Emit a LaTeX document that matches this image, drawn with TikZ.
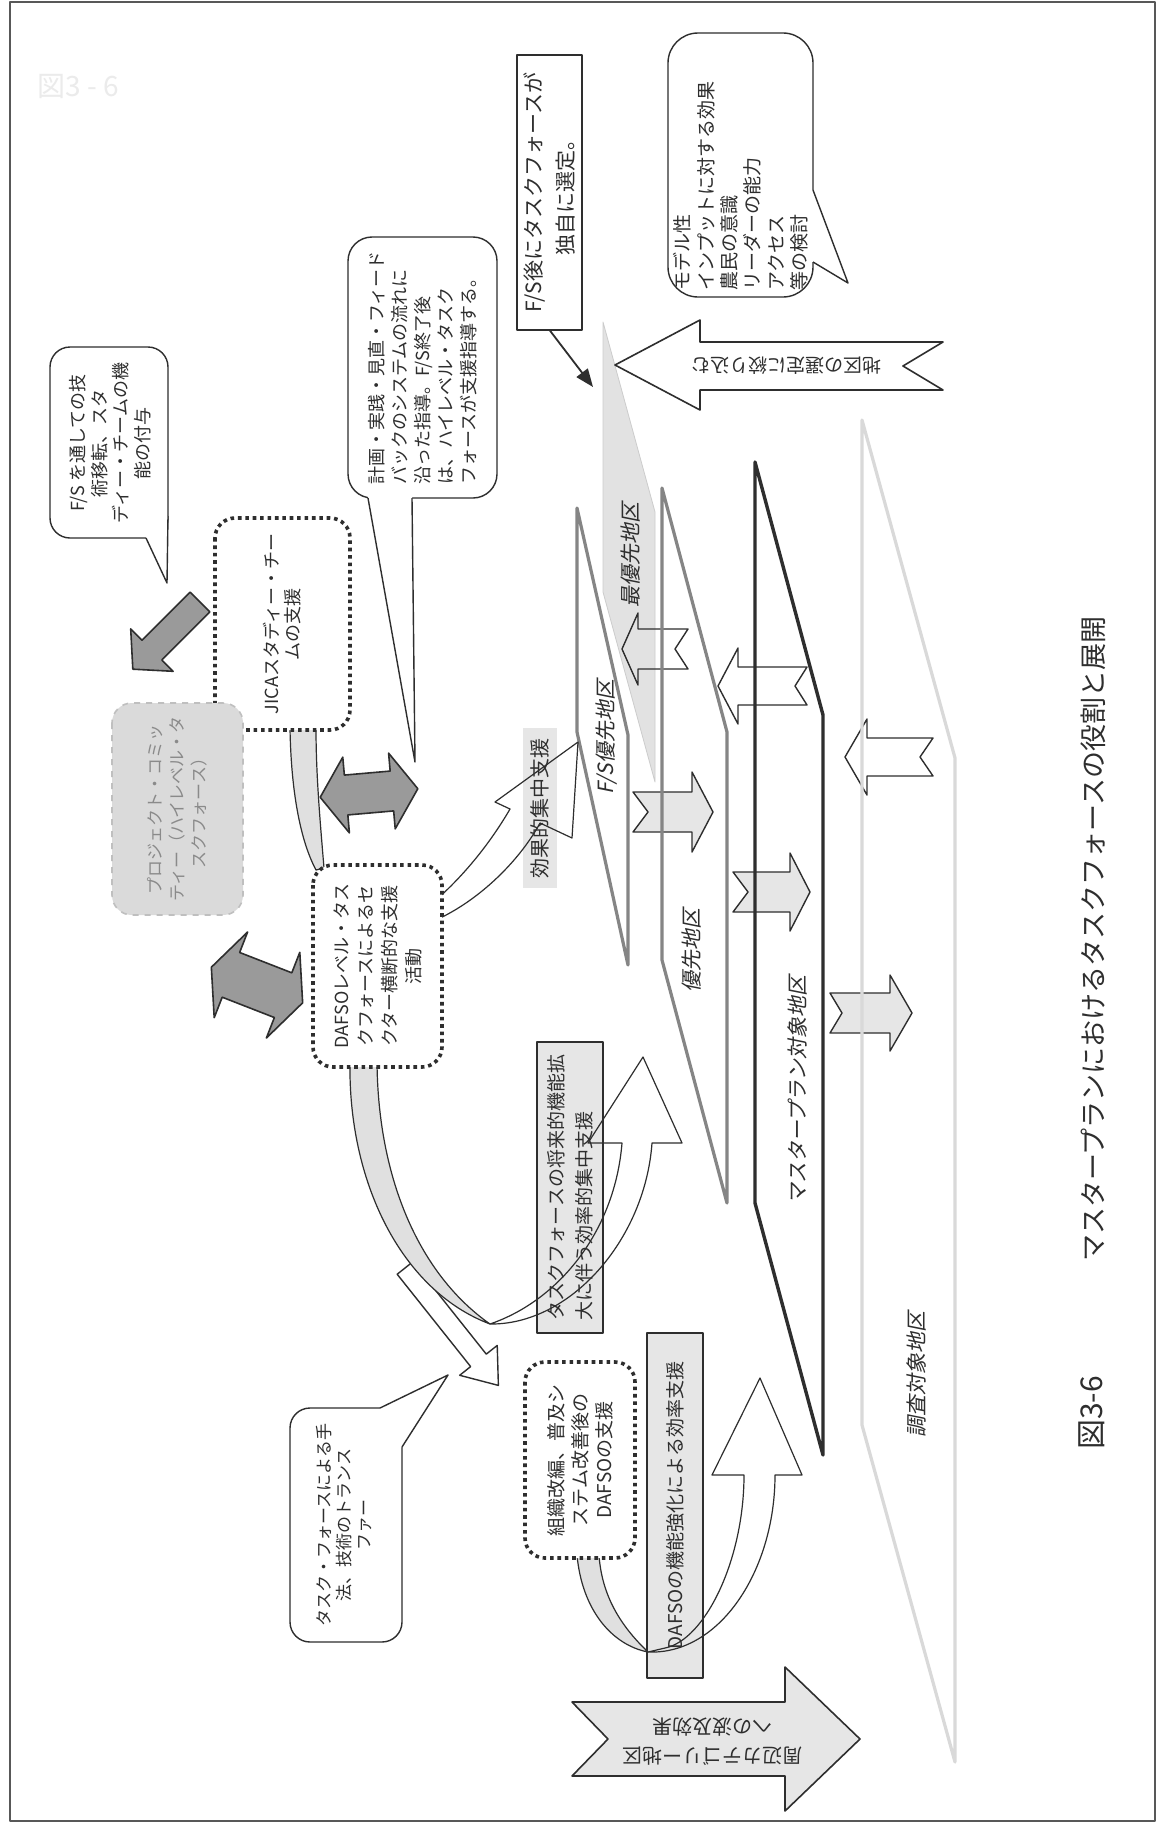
\documentclass[tikz,border=0pt]{standalone}
\usepackage{fontspec}
\setmainfont{Noto Sans CJK JP}
\newfontfamily\jpit[FakeSlant=0.2]{Noto Sans CJK JP}
\usetikzlibrary{arrows.meta}
\definecolor{ink}{HTML}{2E2E2E}
\definecolor{dotfill}{HTML}{E6E6E6}
\definecolor{grayarrow}{HTML}{9A9A9A}
\definecolor{bandfill}{HTML}{E0E0E0}
\definecolor{zonelight}{HTML}{D9D9D9}
\definecolor{zonemid}{HTML}{858585}
\definecolor{topfill}{HTML}{E2E2E2}
\definecolor{projfill}{HTML}{DADADA}
\definecolor{projtext}{HTML}{8A8A8A}
\begin{document}
\begin{tikzpicture}[x=0.5pt,y=-0.5pt,line join=round,
  every node/.style={inner sep=0pt,outer sep=0pt,text=ink},
  vt/.style={rotate=90,align=center,font=\fontsize{9.5}{11.5}\selectfont},
  zlabel/.style={rotate=90,font=\jpit\fontsize{10.5}{12}\selectfont},
  dotbox/.style={draw=ink,line width=1.8pt,dash pattern=on 1.8pt off 1.9pt,rounded corners=10pt,fill=white,rotate=90,align=center},
  lblbox/.style={draw=ink,line width=0.6pt,fill=dotfill,rotate=90},
  outl/.style={draw=ink,line width=0.7pt},
  band/.style={draw=ink,line width=0.6pt,fill=bandfill},
  warr/.style={draw=ink,line width=0.6pt},
  garrow/.style={draw=ink,line width=0.8pt,fill=grayarrow},
  callout/.style={draw=ink,line width=0.7pt,fill=white,rounded corners=10pt},
]
\useasboundingbox (0,0) rectangle (1158,1825);
\fill[white] (0,0) rectangle (1158,1825);
\draw[draw=ink!80,line width=1.1pt] (10,2) rectangle (1155,1821);
\node[text=black!8,font=\fontsize{14}{16}\selectfont] (wm) at (78,86) {図3 - 6};

% ---------- zones ----------
\fill[topfill] (603,322) -- (603,592) -- (655,782) -- (655,512) -- cycle;
\draw[black!20,line width=0.4pt] (603,322) -- (603,592) -- (655,782) -- (655,512) -- cycle;

% small arrows on the zones
\draw[outl] (622,649) -- (638,613) -- (638,629) -- (688,629) -- (675,649) -- (688,669) -- (638,669) -- (638,685) -- cycle;
\draw[outl] (718,686) -- (738,648) -- (738,667) -- (807,667) -- (795,686) -- (807,705) -- (738,705) -- (738,724) -- cycle;
\draw[outl] (845,757) -- (867,719) -- (867,738) -- (933,738) -- (920,757) -- (933,776) -- (867,776) -- (867,795) -- cycle;
\draw[outl,fill=dotfill] (633,792) -- (692,792) -- (692,772) -- (713,812) -- (692,852) -- (692,832) -- (633,832) -- (648,812) -- cycle;
\draw[outl,fill=dotfill] (733,872) -- (790,872) -- (790,853) -- (810,892) -- (790,931) -- (790,912) -- (733,912) -- (748,892) -- cycle;
\draw[outl,fill=dotfill] (830,993) -- (890,993) -- (890,975) -- (912,1013) -- (890,1051) -- (890,1033) -- (830,1033) -- (842,1013) -- cycle;

\draw[zonelight,line width=1.6pt] (862,420) -- (862,1425) -- (955,1762) -- (955,758) -- cycle;
\draw[ink,line width=1.7pt] (755,462) -- (755,1203) -- (823,1455) -- (823,715) -- cycle;
\draw[zonemid,line width=1.6pt] (662,488) -- (662,960) -- (727,1203) -- (727,732) -- cycle;
\draw[zonemid,line width=1.6pt] (577,508) -- (577,732) -- (628,965) -- (628,735) -- cycle;

\node[zlabel] (zl1) at (631,555) {最優先地区};
\node[zlabel] (zl2) at (607,737) {F/S優先地区};
\node[zlabel] (zl3) at (692,950) {優先地区};
\node[zlabel] (zl4) at (797,1090) {マスタープラン対象地区};
\node[zlabel] (zl5) at (917,1374) {調査対象地区};

% ---------- label boxes under the curved arrows ----------
\node[lblbox,minimum width=145.5pt,minimum height=33pt,align=left,font=\fontsize{9.5}{14}\selectfont] (fut) at (570,1187.5) {タスクフォースの将来的機能拡\\大に伴う効率的集中支援};
\node[lblbox,minimum width=172.5pt,minimum height=28pt,font=\fontsize{9.5}{11.5}\selectfont] (dst) at (675,1505.5) {DAFSOの機能強化による効率支援};
\fill[dotfill] (523,728) rectangle (557,888);

% ---------- arrow D (transfer) ----------
\begin{scope}[shift={(405,1268)},rotate=-51.5]
\draw[outl,fill=white] (0,-10) -- (118,-10) -- (118,-24) -- (150,0) -- (118,24) -- (118,10) -- (0,10) -- cycle;
\end{scope}

% ---------- bands and curved arrows ----------
\draw[band] (290,728) .. controls (291,790) and (300,840) .. (316,870) -- (324,868) .. controls (320,820) and (316,775) .. (316,728) -- cycle;
\draw[band] (350,1062) .. controls (348,1180) and (400,1290) .. (490,1324) .. controls (420,1275) and (378,1180) .. (377,1062) -- cycle;
\draw[warr] (490,1324) .. controls (570,1325) and (645,1240) .. (652,1143) -- (682,1143) -- (643,1057) -- (588,1143) -- (622,1143) .. controls (615,1230) and (560,1300) .. (490,1324) -- cycle;
\draw[warr] (436,900) .. controls (470,870) and (495,835) .. (510,809) -- (495,802) -- (578,742) -- (572,838) -- (540,823) .. controls (520,860) and (480,900) .. (436,920);
\draw[band] (577,1555) .. controls (582,1610) and (612,1645) .. (648,1652) .. controls (625,1630) and (602,1600) .. (599,1555) -- cycle;
\draw[warr] (648,1652) .. controls (720,1655) and (775,1570) .. (775,1475) -- (802,1475) -- (760,1378) -- (712,1475) -- (744,1475) .. controls (744,1560) and (705,1640) .. (665,1648) -- cycle;
\node[vt,font=\fontsize{10}{12}\selectfont] (eff) at (540,808) {効果的集中支援};

% ---------- dotted boxes ----------
\node[dotbox,minimum width=106pt,minimum height=67.5pt,font=\fontsize{9}{10.5}\selectfont] (jica) at (282.5,624) {JICAスタディー・チー\\ムの支援};
\node[dotbox,minimum width=101pt,minimum height=64.5pt,font=\fontsize{9}{12}\selectfont] (dafso) at (377.5,966) {DAFSOレベル・タス\\クフォースによるセ\\クター横断的な支援\\活動};
\node[dotbox,minimum width=98pt,minimum height=55pt,font=\fontsize{9.5}{12}\selectfont] (org) at (580,1460) {組織改編、普及シ\\ステム改善後の\\DAFSOの支援};
\node[rotate=90,draw=black!25,dashed,line width=0.8pt,fill=projfill,rounded corners=10pt,minimum width=106pt,minimum height=65.5pt,align=center,text=projtext,font=\fontsize{8.5}{11}\selectfont] (proj) at (177.5,809) {プロジェクト・コミッ\\ティー（ハイレベル・タ\\スクフォース）};

% ---------- gray block arrows ----------
\begin{scope}[shift={(200,602)},rotate=225]
\draw[garrow] (0,-14) -- (68,-14) -- (68,-30) -- (95,0) -- (68,30) -- (68,14) -- (0,14) -- cycle;
\end{scope}
\begin{scope}[shift={(369,793)},rotate=5]
\draw[garrow] (-49,0) -- (-23,-38) -- (-23,-20) -- (23,-20) -- (23,-38) -- (49,0) -- (23,38) -- (23,20) -- (-23,20) -- (-23,38) -- cycle;
\end{scope}
\begin{scope}[shift={(257,985)},rotate=-21.3]
\draw[garrow] (-49,0) -- (-28,-46) -- (-28,-24) -- (28,-24) -- (28,-46) -- (49,0) -- (28,46) -- (28,24) -- (-28,24) -- (-28,46) -- cycle;
\end{scope}

% ---------- callouts ----------
\draw[callout] (50,347) rectangle (168,538);
\fill[white] (146,538) -- (167,583) -- (168,516) -- (162,516) -- (146,532) -- cycle;
\draw[outl] (146,538) -- (167,583) -- (168,516);
\node[vt,font=\fontsize{9}{10.8}\selectfont] (t1) at (110,443) {F/S を通しての技\\術移転、スタ\\ディー・チームの機\\能の付与};

\draw[callout,rounded corners=12pt] (348,237) rectangle (497,498);
\fill[white] (368,498) -- (415,762) -- (412,498) -- (412,494) -- (368,494) -- cycle;
\draw[outl] (368,498) -- (415,762) -- (412,498);
\node[vt,align=left,font=\fontsize{9}{11.5}\selectfont] (t2) at (423,368) {計画・実践・見直・フィード\\バックのシステムの流れに\\沿った指導。F/S終了後\\は、ハイレベル・タスク\\フォースが支援指導する。};

\draw[callout,rounded corners=15pt] (668,33) rectangle (813,297);
\fill[white] (813,190) -- (848,283) -- (813,262) -- (809,262) -- (809,190) -- cycle;
\draw[outl] (813,190) -- (848,283) -- (813,262);
\node[vt,align=left,font=\fontsize{9.5}{11.7}\selectfont] (t4) at (741,186) {モデル性\\インプットに対する効果\\農民の意識\\リーダーの能力\\アクセス\\等の検討};

\draw[callout] (290,1408) rectangle (402,1642);
\fill[white] (380,1408) -- (448,1375) -- (402,1447) -- (396,1447) -- (380,1414) -- cycle;
\draw[outl] (380,1408) -- (448,1375) -- (402,1447);
\node[vt,font=\fontsize{8.5}{10}\selectfont] (t5) at (344,1525) {タスク・フォースによる手\\法、技術のトランス\\ファー};

% ---------- big arrows ----------
\draw[outl,line width=0.8pt,fill=white] (615,365) -- (700,320) -- (700,342) -- (943,342) -- (903,366) -- (943,390) -- (700,390) -- (700,410) -- cycle;
\node[rotate=180,font=\fontsize{9.5}{11}\selectfont] (selt) at (786,366) {地区の選定に絞り込む};
\draw[outl,line width=0.8pt,fill=dotfill] (572,1702) -- (785,1702) -- (785,1667) -- (860,1739) -- (785,1811) -- (785,1776) -- (572,1776) -- (608,1739) -- cycle;
\node[rotate=180,align=center,font=\fontsize{10}{14.5}\selectfont] (spr) at (712,1742) {周辺カテゴリー地区\\への波及効果};

% ---------- F/S box ----------
\node[draw=ink,line width=0.7pt,fill=white,rotate=90,align=center,minimum width=137.5pt,minimum height=32.5pt,font=\fontsize{10.5}{16}\selectfont] (fsb) at (549.5,192.5) {F/S後にタスクフォースが\\独自に選定。};
\coordinate (fst) at (593,387);
\draw[ink,line width=0.9pt,-{Triangle[length=9pt,width=7pt]}] (fsb.west) -- (fst);

% ---------- title ----------
\node[rotate=90,font=\fontsize{13.5}{15}\selectfont] (title) at (1093,939) {マスタープランにおけるタスクフォースの役割と展開};
\node[rotate=90,font=\fontsize{15}{17}\selectfont] (fig) at (1092,1413) {図3-6};
\end{tikzpicture}
\end{document}
